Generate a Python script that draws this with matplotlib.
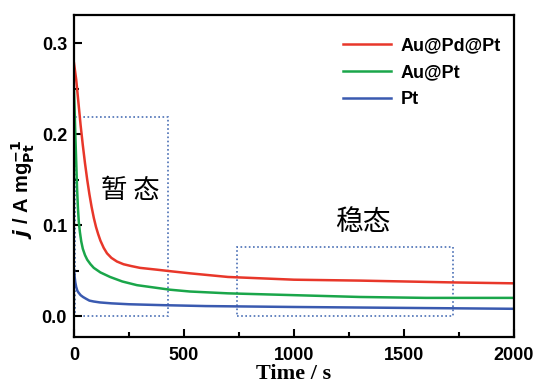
import matplotlib.pyplot as plt
from matplotlib.patches import Rectangle
from matplotlib.ticker import MultipleLocator

plt.rcParams['font.family'] = ['Liberation Sans', 'DejaVu Sans']

# values
t_red = [0, 10, 20, 30, 40, 50, 60, 70, 80, 90, 100, 110, 120, 135, 150,
         170, 195, 225, 260, 300, 377, 450, 527, 700, 1000, 1300, 1723, 2000]
j_red = [0.278, 0.26, 0.235, 0.21, 0.188, 0.168, 0.150, 0.134, 0.120, 0.108,
         0.098, 0.090, 0.083, 0.075, 0.069, 0.064, 0.060, 0.057, 0.055,
         0.053, 0.051, 0.049, 0.047, 0.043, 0.040, 0.039, 0.037, 0.036]

t_green = [0, 3, 6, 10, 14, 18, 22, 27, 33, 40, 50, 60, 75, 90, 120, 164,
           220, 286, 436, 527, 700, 1000, 1300, 1600, 2000]
j_green = [0.248, 0.225, 0.20, 0.17, 0.14, 0.118, 0.103, 0.092, 0.082, 0.074,
           0.067, 0.062, 0.057, 0.053, 0.048, 0.043, 0.038, 0.034, 0.029,
           0.027, 0.025, 0.023, 0.021, 0.020, 0.020]

t_blue = [0, 3, 6, 10, 15, 20, 30, 41, 55, 70, 90, 118, 170, 250, 405, 600,
          1000, 1500, 2000]
j_blue = [0.051, 0.043, 0.037, 0.032, 0.028, 0.026, 0.023, 0.021, 0.019,
          0.017, 0.016, 0.015, 0.014, 0.013, 0.012, 0.011, 0.010, 0.009,
          0.008]

labels = ['Au@Pd@Pt', 'Au@Pt', 'Pt']

fig = plt.figure(figsize=(5.51, 3.85), dpi=100)
ax = fig.add_axes([74 / 551, 1 - 337 / 385, 440 / 551, 322 / 385])

ax.plot(t_red, j_red, color='#e8372a', lw=1.8, label=labels[0])
ax.plot(t_green, j_green, color='#1aa64a', lw=1.8, label=labels[1])
ax.plot(t_blue, j_blue, color='#3a5ab0', lw=1.8, label=labels[2])

# dotted boxes
box_col = '#4a6fb5'
ax.add_patch(Rectangle((5, 0.0), 422, 0.219, fill=False, ec=box_col,
                       ls=(0, (1, 1.5)), lw=1.2))
ax.add_patch(Rectangle((741, 0.0), 982, 0.076, fill=False, ec=box_col,
                       ls=(0, (1, 1.5)), lw=1.2))

ax.text(255, 0.138, '暂 态', fontsize=19, ha='center', va='center',
        family=['Noto Sans CJK SC'])
ax.text(1314, 0.103, '稳态', fontsize=20, ha='center', va='center',
        family=['Noto Sans CJK SC'])

ax.set_xlim(0, 2000)
ax.set_ylim(-0.023, 0.331)
ax.xaxis.set_major_locator(MultipleLocator(500))
ax.xaxis.set_minor_locator(MultipleLocator(250))
ax.yaxis.set_major_locator(MultipleLocator(0.1))
ax.yaxis.set_minor_locator(MultipleLocator(0.05))
ax.tick_params(which='both', direction='in', width=1.5, labelsize=13)
ax.tick_params(which='major', length=6)
ax.tick_params(which='minor', length=3.5)
ax.tick_params(axis='x', pad=7)
ax.tick_params(axis='y', pad=5)
for lab in ax.get_xticklabels() + ax.get_yticklabels():
    lab.set_fontweight('bold')
for s in ax.spines.values():
    s.set_linewidth(1.6)

ax.set_xlabel('Time / s', fontsize=16, fontweight='bold',
              family=['Liberation Serif'], labelpad=0)
ax.set_ylabel(r'$\mathbfit{j}$ / A mg$_{\mathbf{Pt}}^{\mathbf{-1}}$',
              fontsize=14.5, fontweight='bold')
ax.yaxis.set_label_coords(-0.085, 0.46)

leg = ax.legend(loc='upper left', frameon=False,
                prop={'weight': 'bold', 'size': 13}, handlelength=2.65,
                handletextpad=0.55, borderpad=0, borderaxespad=0,
                bbox_to_anchor=(0.611, 0.93), labelspacing=0.55)

fig.savefig('out.png', dpi=100)
